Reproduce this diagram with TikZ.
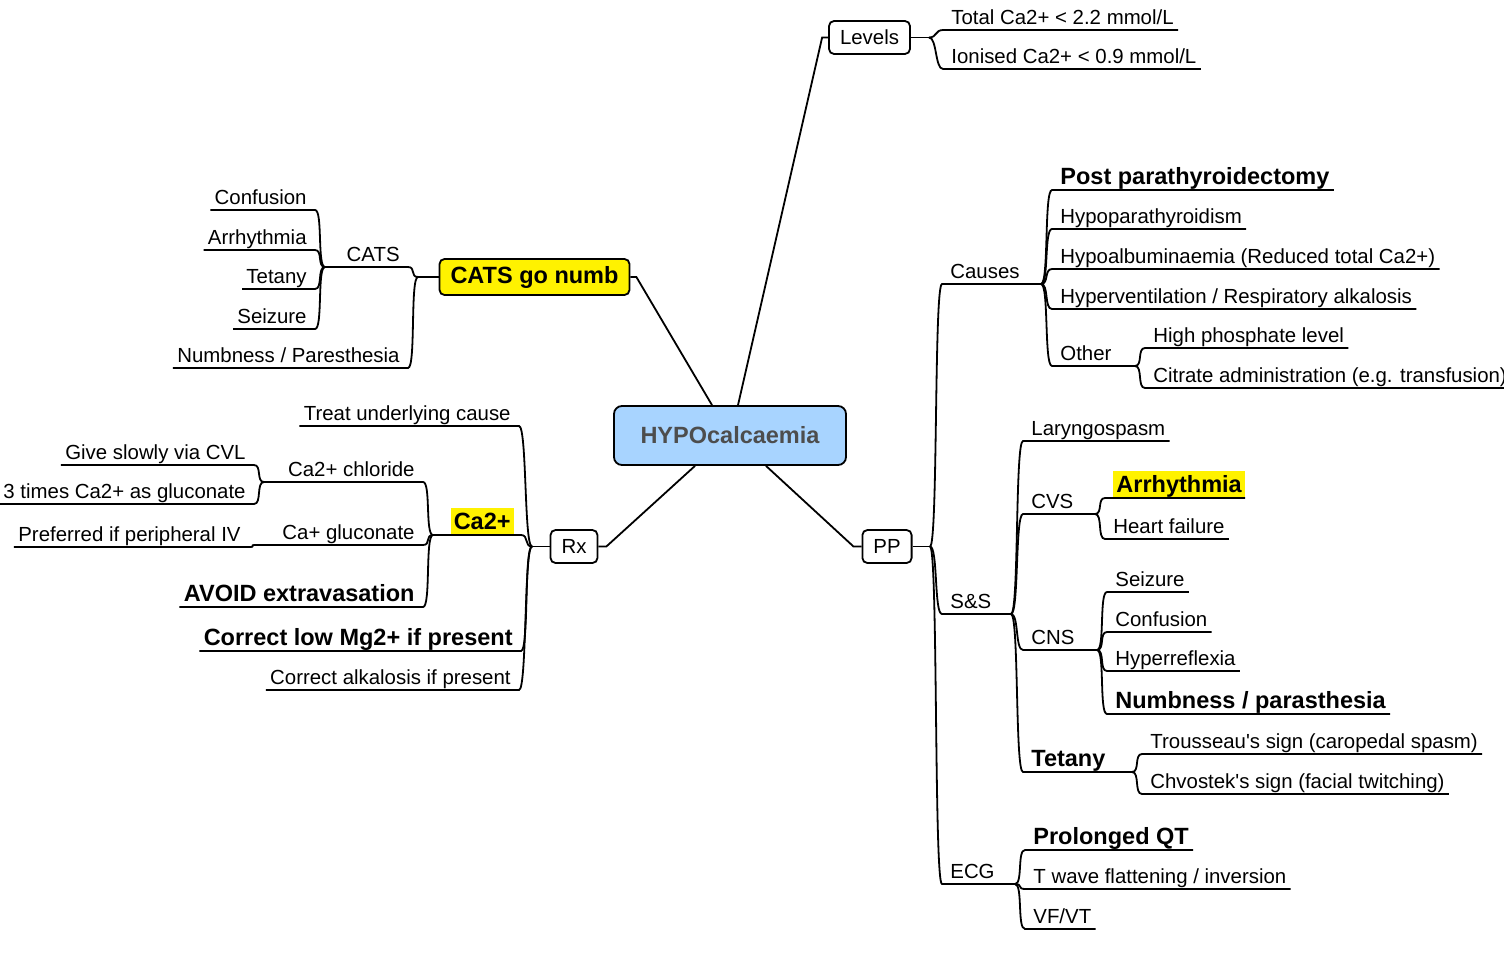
\documentclass[tikz,border=0pt]{standalone}
\usepackage{fontspec}
\setmainfont{Liberation Sans}
\usepackage{xcolor}
\usetikzlibrary{calc}

\definecolor{rootblue}{HTML}{A8D4FF}
\definecolor{rootgrey}{HTML}{4D4D4D}
\newcommand{\fnorm}{\fontsize{10.2}{12}\selectfont}
\newcommand{\fbig}{\fontsize{11.75}{14}\selectfont\bfseries}

\tikzset{
  root/.style={
    draw,
    line width=0.9pt,
    rounded corners=4pt,
    fill=rootblue,
    minimum width=116pt,
    minimum height=29.5pt,
    font=\fbig,
    text=rootgrey
  },
  topic/.style={
    draw,
    line width=0.9pt,
    rounded corners=2.5pt,
    fill=white,
    inner xsep=5.5pt,
    minimum height=16.5pt,
    font=\fnorm
  },
  keytopic/.style={
    topic,
    fill=yellow,
    minimum height=18pt,
    font=\fbig
  },
  leafbase/.style={
    inner xsep=2pt,
    inner ysep=0pt,
    text depth=2.4pt,
    font=\fnorm
  },
  leafr/.style={
    leafbase,
    anchor=south west,
    execute at begin node={\hspace{2pt}}
  },
  leafl/.style={
    leafbase,
    anchor=south east,
    execute at end node={\hspace{2pt}}
  },
  strong/.style={font=\fbig},
  hilite/.style={
    leafbase,
    strong,
    fill=yellow,
    inner xsep=1.5pt,
    text height=11pt
  },
  link/.style={line width=0.9pt},
  toright/.style={out=0, in=180, distance=4pt},
  toleft/.style={out=180, in=0, distance=4pt}
}

\begin{document}
\begin{tikzpicture}[x=0.5pt, y=-0.5pt]
  \useasboundingbox (0,0) rectangle (1504,958);

  \node[root] (hypo) at (730,435.5) {HYPOcalcaemia};
  \node[topic] (levels) at (869.5,37.5) {Levels};
  \node[keytopic] (cats) at (534.5,277) {CATS go numb};
  \node[topic] (rx) at (574,546.5) {Rx};
  \node[topic] (pp) at (887,546.5) {PP};

  \coordinate (levfork) at (929,37.5);
  \coordinate (catsfork) at (418,277);
  \coordinate (cats2fork) at (325,267);
  \coordinate (rxfork) at (532,546.5);
  \coordinate (cafork) at (433,535);
  \coordinate (chlfork) at (264,482);
  \coordinate (glufork) at (256,545);
  \coordinate (ppfork) at (930,546.5);
  \coordinate (causefork) at (1041,284);
  \coordinate (otherfork) at (1135,366);
  \coordinate (ssfork) at (1011,614);
  \coordinate (cvsfork) at (1095,514);
  \coordinate (cnsfork) at (1097,650);
  \coordinate (tetfork) at (1132,772);
  \coordinate (ecgfork) at (1015,884);

  \node[leafr] (total) at (943,30) {Total Ca2+ < 2.2 mmol/L};
  \node[leafr] (ionised) at (943,69) {Ionised Ca2+ < 0.9 mmol/L};

  \node[leafl] (cats2) at (408,267) {CATS};
  \node[leafl] (confA) at (315,210) {Confusion};
  \node[leafl] (arrA) at (315,250) {Arrhythmia};
  \node[leafl] (tetA) at (315,289) {Tetany};
  \node[leafl] (seizA) at (315,329) {Seizure};
  \node[leafl] (numbA) at (408,368) {Numbness / Paresthesia};

  \node[leafl] (treat) at (519,426) {Treat underlying cause};
  \node[hilite, anchor=south east] (ca) at (514,535) {Ca2+};
  \node[leafl, strong] (mg) at (521,651) {Correct low Mg2+ if present};
  \node[leafl] (alk) at (519,690) {Correct alkalosis if present};
  \node[leafl] (chl) at (423,482) {Ca2+ chloride};
  \node[leafl] (glu) at (423,545) {Ca+ gluconate};
  \node[leafl, strong] (avoid) at (423,607) {AVOID extravasation};
  \node[leafl] (slow) at (254,465) {Give slowly via CVL};
  \node[leafl] (three) at (254,504) {3 times Ca2+ as gluconate};
  \node[leafl] (pref) at (249,547) {Preferred if peripheral IV};

  \node[leafr] (causes) at (942,284) {Causes};
  \node[leafr] (ss) at (942,614) {S\&S};
  \node[leafr] (ecg) at (942,884) {ECG};
  \node[leafr, strong] (postp) at (1052,190) {Post parathyroidectomy};
  \node[leafr] (hypop) at (1052,229) {Hypoparathyroidism};
  \node[leafr] (hypoa) at (1052,269) {Hypoalbuminaemia (Reduced total Ca2+)};
  \node[leafr] (hyperv) at (1052,309) {Hyperventilation / Respiratory alkalosis};
  \node[leafr] (other) at (1052,366) {Other};
  \node[leafr] (phos) at (1145,348) {High phosphate level};
  \node[leafr] (citr) at (1145,388) {Citrate administration (e.g. transfusion)};
  \node[leafr] (laryn) at (1023,441) {Laryngospasm};
  \node[leafr] (cvs) at (1023,514) {CVS};
  \node[hilite, anchor=south west] (arrB) at (1113,498) {Arrhythmia};
  \node[leafr] (heart) at (1105,539) {Heart failure};
  \node[leafr] (cns) at (1023,650) {CNS};
  \node[leafr] (seizB) at (1107,592) {Seizure};
  \node[leafr] (confB) at (1107,632) {Confusion};
  \node[leafr] (hyperr) at (1107,671) {Hyperreflexia};
  \node[leafr, strong] (numbB) at (1107,714) {Numbness / parasthesia};
  \node[leafr, strong] (tetB) at (1023,772) {Tetany};
  \node[leafr] (trous) at (1142,754) {Trousseau\textquotesingle s sign (caropedal spasm)};
  \node[leafr] (chvos) at (1142,794) {Chvostek\textquotesingle s sign (facial twitching)};
  \node[leafr, strong] (qt) at (1025,850) {Prolonged QT};
  \node[leafr] (twave) at (1025,889) {T wave flattening / inversion};
  \node[leafr] (vfvt) at (1025,929) {VF/VT};

  \draw[link] ($(hypo.north)+(8,0)$) -- ($(levels.west)+(-6,0)$) -- (levels.west);
  \draw[link] ($(hypo.north)+(-18,0)$) -- ($(cats.east)+(6,0)$) -- (cats.east);
  \draw[link] ($(hypo.south)+(-35,0)$) -- ($(rx.east)+(8,0)$) -- (rx.east);
  \draw[link] ($(hypo.south)+(36,0)$) -- ($(pp.west)+(-8,0)$) -- (pp.west);

  \draw[link] (levels.east) -- (levfork);
  \draw[link] (levfork) to[toright] (total.south west) -- (total.south east);
  \draw[link] (levfork) to[toright] (ionised.south west) -- (ionised.south east);

  \draw[link] (cats.west) -- (catsfork);
  \draw[link] (catsfork) to[toleft] (cats2.south east) -- (cats2fork);
  \draw[link] (catsfork) to[toleft] (numbA.south east) -- (numbA.south west);
  \draw[link] (cats2fork) to[toleft] (confA.south east) -- (confA.south west);
  \draw[link] (cats2fork) to[toleft] (arrA.south east) -- (arrA.south west);
  \draw[link] (cats2fork) to[toleft] (tetA.south east) -- (tetA.south west);
  \draw[link] (cats2fork) to[toleft] (seizA.south east) -- (seizA.south west);

  \draw[link] (rx.west) -- (rxfork);
  \draw[link] (rxfork) to[toleft] (treat.south east) -- (treat.south west);
  \draw[link] (rxfork) to[toleft] ([xshift=3.5pt]ca.south east) -- (cafork);
  \draw[link] (rxfork) to[toleft] (mg.south east) -- (mg.south west);
  \draw[link] (rxfork) to[toleft] (alk.south east) -- (alk.south west);
  \draw[link] (cafork) to[toleft] (chl.south east) -- (chlfork);
  \draw[link] (cafork) to[toleft] (glu.south east) -- (glufork);
  \draw[link] (cafork) to[toleft] (avoid.south east) -- (avoid.south west);
  \draw[link] (chlfork) to[toleft] (slow.south east) -- (slow.south west);
  \draw[link] (chlfork) to[toleft] (three.south east) -- (three.south west);
  \draw[link] (glufork) to[toleft] (pref.south east) -- (pref.south west);

  \draw[link] (pp.east) -- (ppfork);
  \draw[link] (ppfork) to[toright] (causes.south west) -- (causefork);
  \draw[link] (ppfork) to[toright] (ss.south west) -- (ssfork);
  \draw[link] (ppfork) to[toright] (ecg.south west) -- (ecgfork);
  \draw[link] (causefork) to[toright] (postp.south west) -- (postp.south east);
  \draw[link] (causefork) to[toright] (hypop.south west) -- (hypop.south east);
  \draw[link] (causefork) to[toright] (hypoa.south west) -- (hypoa.south east);
  \draw[link] (causefork) to[toright] (hyperv.south west) -- (hyperv.south east);
  \draw[link] (causefork) to[toright] (other.south west) -- (otherfork);
  \draw[link] (otherfork) to[toright] (phos.south west) -- (phos.south east);
  \draw[link] (otherfork) to[toright] (citr.south west) -- (citr.south east);
  \draw[link] (ssfork) to[toright] (laryn.south west) -- (laryn.south east);
  \draw[link] (ssfork) to[toright] (cvs.south west) -- (cvsfork);
  \draw[link] (ssfork) to[toright] (cns.south west) -- (cnsfork);
  \draw[link] (ssfork) to[toright] (tetB.south west) -- (tetfork);
  \draw[link] (cvsfork) to[toright] ([xshift=-4pt]arrB.south west) -- (arrB.south east);
  \draw[link] (cvsfork) to[toright] (heart.south west) -- (heart.south east);
  \draw[link] (cnsfork) to[toright] (seizB.south west) -- (seizB.south east);
  \draw[link] (cnsfork) to[toright] (confB.south west) -- (confB.south east);
  \draw[link] (cnsfork) to[toright] (hyperr.south west) -- (hyperr.south east);
  \draw[link] (cnsfork) to[toright] (numbB.south west) -- (numbB.south east);
  \draw[link] (tetfork) to[toright] (trous.south west) -- (trous.south east);
  \draw[link] (tetfork) to[toright] (chvos.south west) -- (chvos.south east);
  \draw[link] (ecgfork) to[toright] (qt.south west) -- (qt.south east);
  \draw[link] (ecgfork) to[toright] (twave.south west) -- (twave.south east);
  \draw[link] (ecgfork) to[toright] (vfvt.south west) -- (vfvt.south east);
\end{tikzpicture}
\end{document}
